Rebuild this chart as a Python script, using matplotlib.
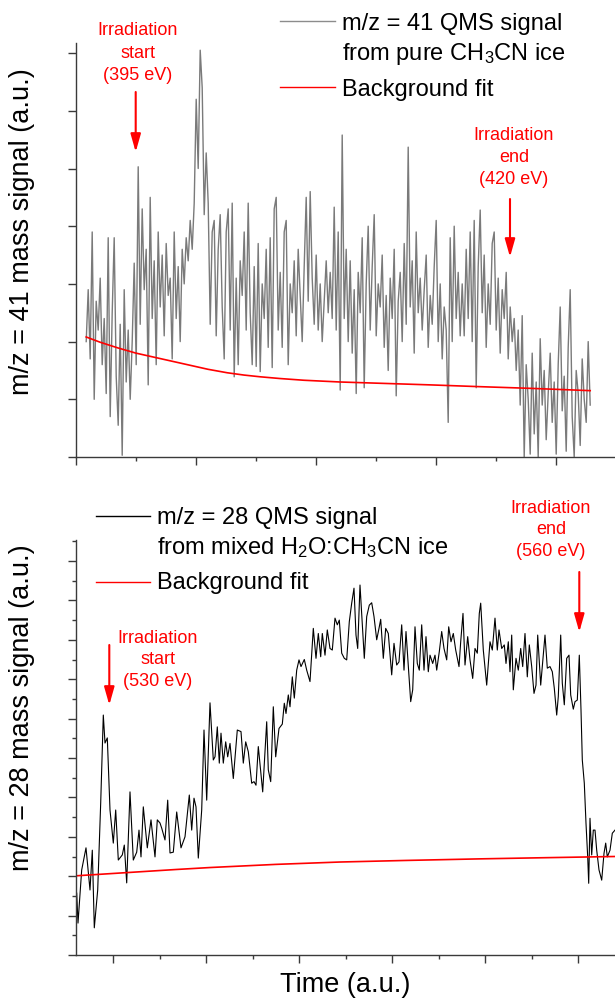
import numpy as np
import matplotlib
matplotlib.use("Agg")
import matplotlib.pyplot as plt
from matplotlib.lines import Line2D
from matplotlib.patches import FancyArrowPatch
from matplotlib.ticker import MultipleLocator, FixedLocator

plt.rcParams["font.family"] = ["Liberation Sans", "DejaVu Sans"]
plt.rcParams["mathtext.fontset"] = "custom"
plt.rcParams["mathtext.rm"] = "Liberation Sans"
plt.rcParams["mathtext.it"] = "Liberation Sans:italic"

# --- m/z = 41, pure CH3CN ice (read left to right, evenly sampled) ---
mz41_a = [2.0, 2.9, 1.7, 3.9, 1.0, 2.7, 2.2, 3.1, 1.6, 2.4, 1.1, 3.8, 0.7,
          2.5, 3.8, 1.4, 0.55, 2.3, 0.03, 2.9, 1.3, 2.2, 1.0, 2.0, 3.36, 1.6]
mz41_b = [5.03, 2.3, 4.3, 2.9, 3.6, 1.25, 4.5, 2.4, 3.4, 1.6, 3.9, 2.6, 3.5,
          2.1, 3.7, 2.8, 3.1, 1.7, 3.9, 2.4, 3.3, 2.0, 3.6, 3.0, 3.8]
mz41_c = [3.4, 4.1, 3.6, 4.4, 6.2, 5.0, 7.05, 6.4, 4.2, 5.27, 4.4, 2.3, 3.9]
mz41_d = [4.1, 2.1, 3.6, 4.2, 2.6, 1.7, 3.9, 4.3, 2.2, 4.4, 1.39, 3.1, 1.6,
          3.4, 2.8, 3.9, 2.2, 4.4, 2.5, 1.6, 3.3, 1.57, 3.7, 1.48, 3.0, 2.4,
          3.6, 1.9, 3.8, 1.55, 4.3, 4.5, 2.2, 3.2, 1.9, 3.9, 4.1, 1.6, 3.0,
          2.5, 3.4, 2.1, 3.6, 2.8, 2.0, 3.3, 4.5, 2.7, 4.6, 3.1, 2.3, 3.5,
          2.2, 3.0, 2.0, 2.7, 3.4, 2.5, 3.2, 2.4]
mz41_e = [4.33, 2.2, 3.9, 1.16, 5.58, 2.4, 3.6, 2.0, 3.4, 1.8, 2.9, 1.1, 3.2,
          2.5, 3.8, 1.2, 3.0, 4.0, 2.2, 3.3, 4.2, 2.1, 3.0, 2.6, 3.5, 1.9,
          2.8, 1.5, 3.1, 2.4, 3.6, 1.06, 2.7, 3.2, 2.0, 3.7, 2.3, 5.37, 2.6,
          3.4, 1.8, 3.9, 2.5, 3.1, 2.2, 2.9, 3.5, 1.9, 2.8, 2.3, 3.3, 4.1,
          2.0, 3.0, 1.7, 2.6, 2.2, 0.6, 3.8, 2.0, 4.0, 2.4, 3.2, 2.1]
mz41_f = [3.0, 2.1, 3.6, 2.4, 3.9, 2.0, 4.1, 1.2, 3.3, 4.28, 2.5, 3.5, 1.9,
          3.0, 2.3, 3.7, 3.9, 2.2, 3.1, 1.8, 2.9, 2.4, 3.2, 1.7, 2.6, 2.0]
mz41_g = [2.4, 1.5, 2.2, 0.9, 2.45, 0.0, 1.6, 1.0, 0.05, 1.8, 0.4, 1.3, 0.0,
          2.05, 0.9, 1.5, 0.3, 1.1, 1.8, 0.6, 1.3, 0.05, 1.6, 2.6, 0.8, 1.4,
          0.1, 1.9, 2.9, 0.7, 0.0, 1.5, 1.1, 0.2, 1.7, 1.0, 0.6, 2.0, 0.9]
mz41_start, mz41_end = 0.17, 8.57

fit41_t = [0.17, 0.4, 0.7, 1.0, 1.3, 1.6, 1.9, 2.2, 2.52, 2.8, 3.07, 3.4,
           3.8, 4.4, 5.0, 5.9, 6.7, 7.57, 8.57]
fit41_y = [2.08, 1.99, 1.89, 1.80, 1.73, 1.66, 1.59, 1.52, 1.46, 1.42, 1.39,
           1.36, 1.33, 1.30, 1.28, 1.25, 1.22, 1.19, 1.15]

# --- m/z = 28, mixed H2O:CH3CN ice ---
mz28_t = [0.7, 2, 5.7, 10, 14, 16.3, 18.3, 21.7, 24.7, 27.3, 29, 31.3, 34,
          37.3, 39.7, 42.3, 46.3, 48.3, 50.7, 54, 57.3, 60.7, 63, 65, 67.3,
          71.3, 75, 79, 81.3, 84, 85.7, 89, 91.7, 94, 97.3, 100.7, 105, 109,
          113.3, 115.7, 118, 120, 122.3, 125.7, 128, 130.7, 134, 137.3, 139,
          141.3, 143.3, 145, 147.3, 149.7, 151.7, 154, 157.3, 161.3, 165,
          167.3, 169.7, 172.3, 175.7, 178, 180, 182.3, 186.7, 190.7, 192.3,
          194.7, 197.3, 199.7, 203, 206.3, 208.3, 210, 212.3, 214, 216.3,
          218.3, 220.7, 223, 225, 228.3, 230.7, 234, 237.3, 240, 242.3, 244.7,
          246.3, 249, 251.3, 254, 256.3, 259, 261.3, 263.3, 265.7, 268.3,
          270.7, 273.3, 275.7, 278, 280, 281.7, 284, 286.3, 288.3, 290.7,
          293.3, 295.7, 298, 300.7, 303, 304.7, 307.3, 309.7, 312.3, 315.7,
          318, 320.7, 323, 325.7, 328, 330, 332.3, 334.7, 336.7, 339, 341.3,
          343.3, 345.7, 348, 350, 352.3, 354, 356.7, 359, 360.7, 363.3, 365.7,
          368, 370.7, 372.7, 375, 377.3, 379.7, 383, 384.7, 387, 389, 391.7,
          394, 396.7, 399, 401.3, 403.3, 404.7, 407.3, 410.7, 414, 416.3, 419,
          421.3, 423, 425.7, 428.3, 430, 432.3, 434, 435.7, 437.3, 440, 442.3,
          444.7, 446.7, 449, 451.3, 453.3, 455.7, 458, 460, 461.7, 464.7,
          466.7, 469, 471.3, 474, 476.3, 478.3, 480.7, 482.3, 484.7, 486.3,
          488.3, 490.7, 493, 494.7, 497.3, 499, 501.3, 503.3, 505, 506.3,
          508.3, 510, 511.7, 512.7, 514, 515.7, 517.3, 519, 520.7, 523, 525.7,
          528, 529.7, 531.3, 534, 536.3, 539]
mz28_y = [1.57, 0.81, 2.16, 2.72, 1.65, 2.66, 0.69, 1.65, 3.86, 6.09, 5.38,
          5.51, 3.68, 2.84, 3.68, 2.41, 2.54, 2.79, 1.83, 4.14, 2.41, 2.61,
          3.17, 2.49, 3.76, 2.72, 3.43, 2.49, 3.43, 3.35, 3.22, 2.92, 3.93,
          2.59, 2.61, 3.63, 2.72, 3.0, 4.06, 3.17, 3.98, 3.76, 2.46, 3.68,
          5.71, 3.93, 6.4, 4.95, 5.03, 5.79, 4.87, 5.63, 4.87, 5.41, 5.03,
          5.37, 4.48, 5.71, 5.67, 4.87, 5.41, 5.16, 4.36, 4.4, 4.31, 5.29,
          4.14, 5.92, 4.7, 4.4, 6.3, 5.03, 5.75, 5.86, 6.39, 6.13, 6.6, 6.3,
          7.06, 6.52, 7.23, 7.49, 7.32, 7.5, 7.23, 6.94, 8.29, 7.53, 8.16,
          7.57, 8.16, 7.61, 8.25, 7.78, 7.74, 8.55, 8.38, 8.5, 7.66, 7.53,
          7.49, 8.46, 8.93, 9.31, 8.12, 7.78, 9.39, 8.42, 7.53, 8.59, 8.88,
          8.94, 8.59, 8.0, 8.29, 8.52, 7.53, 8.29, 8.16, 7.11, 7.91, 7.36,
          7.44, 8.38, 7.23, 8.21, 7.32, 6.43, 6.73, 8.33, 7.4, 7.23, 8.38,
          7.23, 8.08, 7.19, 7.61, 7.4, 7.61, 7.23, 7.7, 8.21, 7.78, 7.49,
          8.33, 7.95, 8.16, 7.74, 7.32, 7.95, 8.67, 7.36, 8.08, 7.49, 7.02,
          7.78, 7.66, 8.67, 8.93, 7.74, 6.85, 7.95, 7.74, 8.55, 7.74, 8.25,
          7.78, 7.87, 7.4, 7.95, 7.19, 8.12, 6.73, 7.53, 7.23, 7.78, 7.32,
          8.16, 7.06, 7.87, 7.32, 6.64, 6.85, 8.12, 6.85, 7.44, 8.12, 7.28,
          7.32, 7.19, 6.77, 6.09, 6.56, 8.12, 6.9, 6.35, 7.53, 7.61, 6.6,
          6.24, 6.43, 6.47, 7.61, 6.22, 4.95, 4.36, 3.34, 2.49, 1.82, 3.47,
          2.54, 3.17, 3.17, 2.66, 2.16, 1.9, 2.58, 2.84, 2.49, 2.66, 3.09,
          3.17]

fit28_t = [0, 50, 100, 134, 200, 264, 330, 404, 470, 539]
fit28_y = [2.01, 2.09, 2.17, 2.22, 2.30, 2.36, 2.40, 2.44, 2.47, 2.50]

W, H = 615, 1001


def fx(px):
    return px / W


def fy(py):
    return 1 - py / H


fig = plt.figure(figsize=(W / 100, H / 100), dpi=100)
ax1 = fig.add_axes([fx(76), fy(457), 539 / W, 414 / H])
ax2 = fig.add_axes([fx(76), fy(955), 539 / W, 415 / H])

spine_col = "#3a3a3a"
for ax in (ax1, ax2):
    for side in ("top", "right"):
        ax.spines[side].set_visible(False)
    for side in ("left", "bottom"):
        ax.spines[side].set_color(spine_col)
        ax.spines[side].set_linewidth(1.0)
    ax.tick_params(which="both", direction="out", color=spine_col, width=1.0,
                   labelleft=False, labelbottom=False)
    ax.tick_params(which="major", length=5.8)
    ax.tick_params(which="minor", length=3.1)

# top panel
sig41 = np.concatenate([mz41_a, mz41_b, mz41_c, mz41_d, mz41_e, mz41_f, mz41_g])
t41 = np.linspace(mz41_start, mz41_end, len(sig41))
ax1.plot(t41, sig41, color="#7a7a7a", lw=1.0)
ax1.plot(fit41_t, fit41_y, color="red", lw=1.2)
ax1.set_xlim(0, 539 / 60)
ax1.set_ylim(0, 414 / 57.7)
ax1.xaxis.set_major_locator(MultipleLocator(2))
ax1.xaxis.set_minor_locator(MultipleLocator(1))
ax1.yaxis.set_major_locator(MultipleLocator(1))

# bottom panel
ax2.plot(mz28_t, mz28_y, color="black", lw=0.8)
ax2.plot(fit28_t, fit28_y, color="red", lw=1.2)
ax2.set_xlim(0, 539)
ax2.set_ylim(0, 415 / 39.4)
ax2.xaxis.set_major_locator(FixedLocator(np.arange(37, 540, 93)))
ax2.xaxis.set_minor_locator(FixedLocator(np.arange(83.5, 540, 93)))
ax2.yaxis.set_major_locator(MultipleLocator(1))
ax2.yaxis.set_minor_locator(MultipleLocator(0.5))

# legends (drawn by hand so the line sits on the first text line)
leg_fs = 17


def legend_line(x0, x1, y, color):
    fig.add_artist(Line2D([fx(x0), fx(x1)], [fy(y), fy(y)], color=color,
                          lw=1.0, transform=fig.transFigure))


legend_line(280, 335, 21, "#8c8c8c")
fig.text(fx(342), fy(30), "m/z = 41 QMS signal", fontsize=leg_fs, va="baseline")
fig.text(fx(342), fy(60), "from pure CH$_3$CN ice", fontsize=leg_fs, va="baseline")
legend_line(280, 335, 87, "red")
fig.text(fx(342), fy(96), "Background fit", fontsize=leg_fs, va="baseline")

legend_line(96, 150, 516, "black")
fig.text(fx(157), fy(524), "m/z = 28 QMS signal", fontsize=leg_fs, va="baseline")
fig.text(fx(157), fy(554), "from mixed H$_2$O:CH$_3$CN ice", fontsize=leg_fs,
         va="baseline")
legend_line(96, 150, 582, "red")
fig.text(fx(157), fy(589), "Background fit", fontsize=leg_fs, va="baseline")


# irradiation markers
def marker(cx, baselines, lines, ax_x, y_tail, y_head):
    for b, s in zip(baselines, lines):
        fig.text(fx(cx), fy(b), s, color="red", fontsize=13, ha="center",
                 va="baseline")
    fig.add_artist(FancyArrowPatch(
        (fx(ax_x), fy(y_tail)), (fx(ax_x), fy(y_head)),
        transform=fig.transFigure, color="red", lw=1.5,
        arrowstyle="-|>,head_length=0.6,head_width=0.17", mutation_scale=18,
        shrinkA=0, shrinkB=0))


marker(138, [35, 57.5, 80], ["Irradiation", "start", "(395 eV)"], 135.7, 92, 152)
marker(514, [140, 162, 184], ["Irradiation", "end", "(420 eV)"], 510, 199, 257)
marker(158, [643, 664.5, 686], ["Irradiation", "start", "(530 eV)"], 109.3, 645, 705)
marker(551, [513, 534.5, 556], ["Irradiation", "end", "(560 eV)"], 579.3, 572, 632)

# axis labels
fig.text(fx(22), fy(232), "m/z = 41 mass signal (a.u.)", fontsize=19.5,
         rotation=90, ha="center", va="center")
fig.text(fx(22), fy(708), "m/z = 28 mass signal (a.u.)", fontsize=19.5,
         rotation=90, ha="center", va="center")
fig.text(fx(345), fy(985), "Time (a.u.)", fontsize=19.5, ha="center", va="center")

fig.savefig("out.png", dpi=100)
